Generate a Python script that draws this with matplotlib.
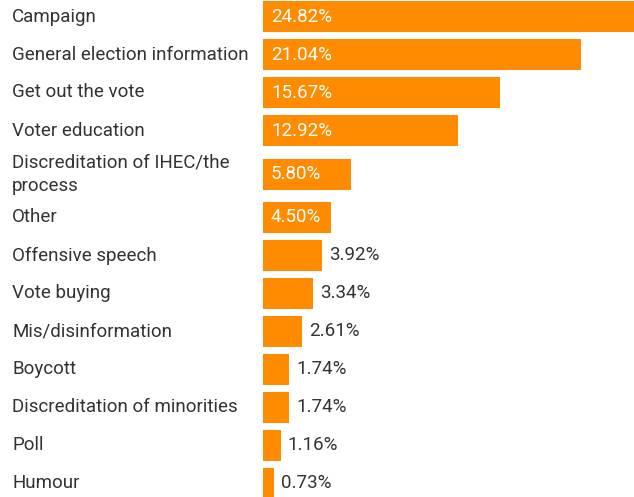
import matplotlib.pyplot as plt
import numpy as np

plt.rcParams['font.family'] = ['Roboto', 'DejaVu Sans']

categories = [
    'Campaign',
    'General election information',
    'Get out the vote',
    'Voter education',
    'Discreditation of IHEC/the\nprocess',
    'Other',
    'Offensive speech',
    'Vote buying',
    'Mis/disinformation',
    'Boycott',
    'Discreditation of minorities',
    'Poll',
    'Humour',
]
shares = [24.82, 21.04, 15.67, 12.92, 5.80, 4.50, 3.92, 3.34, 2.61, 1.74, 1.74, 1.16, 0.73]

W, H = 634, 497
bar_color = '#FF8C00'
text_color = '#333333'

# row heights in pixels: two-line labels get a taller row
row_h = np.array([38 + 11 * c.count('\n') for c in categories], dtype=float)
centers = np.cumsum(row_h) - row_h / 2
centers = centers - centers[0] + 16.5

fig = plt.figure(figsize=(W / 100, H / 100), dpi=100)
fig.patch.set_facecolor('white')

x0 = 263
ax = fig.add_axes([x0 / W, 0, 1 - x0 / W, 1])
ax.set_xlim(0, (W - x0) / 15.11)
ax.set_ylim(H, 0)
ax.axis('off')

ax.barh(centers, shares, height=31, color=bar_color, edgecolor='none')

px = 1 / 15.11
for y, v in zip(centers, shares):
    lab = f'{v:.2f}%'
    if v >= 4.0:
        ax.text(8 * px, y, lab, ha='left', va='center', color='white',
                fontsize=13.5)
    else:
        ax.text(v + 7 * px, y, lab, ha='left', va='center', color=text_color,
                fontsize=13.5)

for y, c in zip(centers, categories):
    fig.text(12 / W, 1 - y / H, c, ha='left', va='center', color=text_color,
             fontsize=13.5, linespacing=1.4)

fig.savefig('out.png', dpi=100, facecolor='white')
